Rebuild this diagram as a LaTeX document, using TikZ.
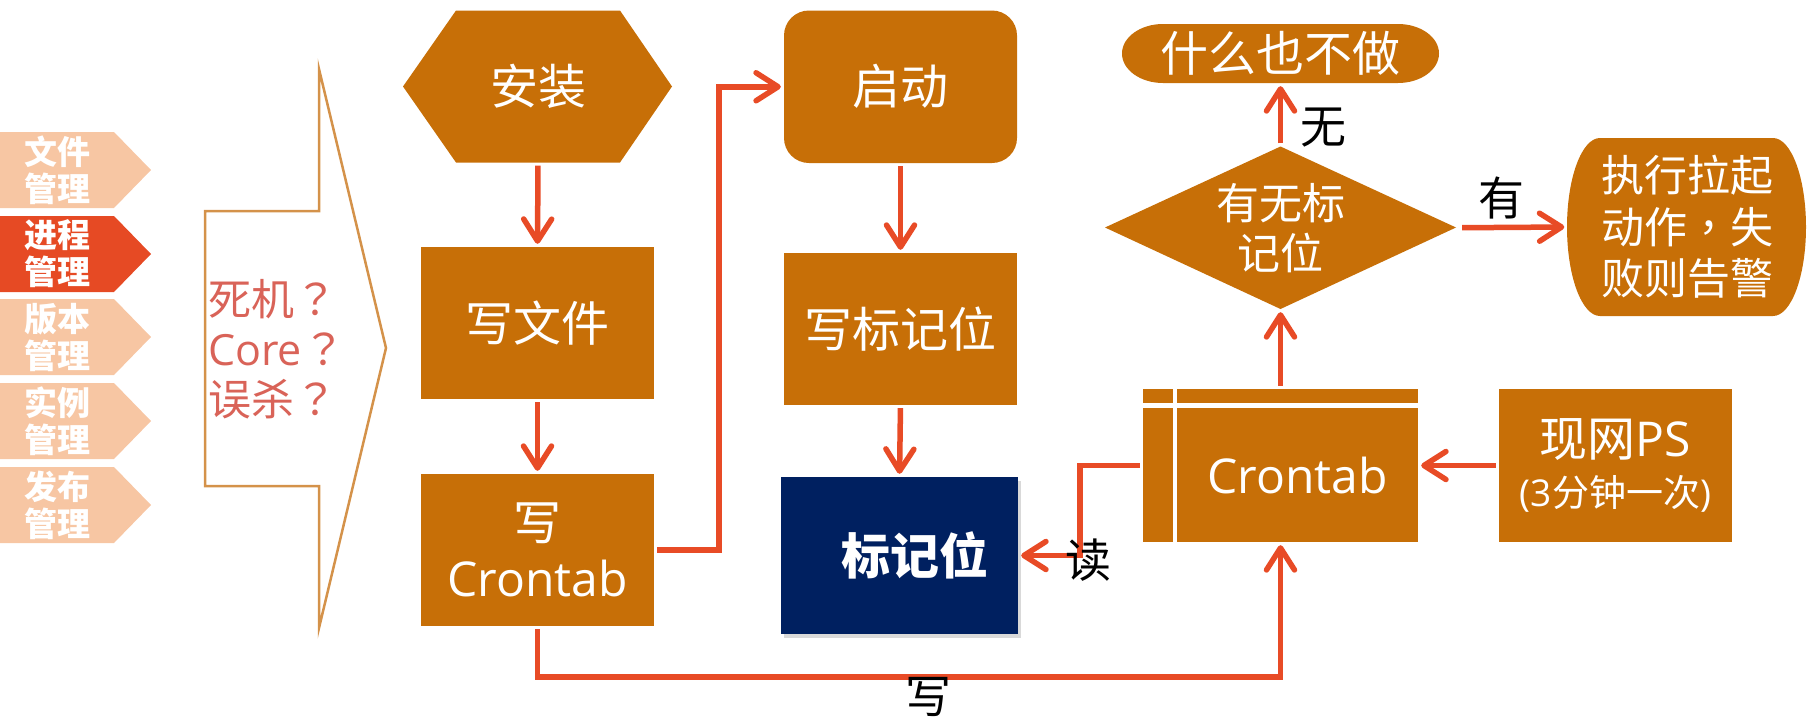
\documentclass[tikz,border=0pt]{standalone}
\usepackage{fontspec}
\setmainfont{Noto Sans CJK SC}
\newfontfamily\lat{Open Sans}
\newfontfamily\tcf{Noto Sans CJK TC}
\usetikzlibrary{arrows.meta,shadows}
\definecolor{boxor}{RGB}{199,111,7}
\definecolor{navy}{RGB}{0,32,96}
\definecolor{arrred}{RGB}{232,75,38}
\definecolor{pentlight}{RGB}{247,198,163}
\definecolor{pentred}{RGB}{230,74,36}
\definecolor{qred}{RGB}{217,99,88}
\definecolor{outl}{RGB}{212,146,74}
\begin{document}
\begin{tikzpicture}[x=1pt,y=1pt,
  boxst/.style={fill=boxor,inner sep=0pt,text=white,align=center,font=\fontsize{48}{56}\selectfont},
  ghost/.style={inner sep=0pt,text=white,align=center},
  arr/.style={draw=arrred,line width=5.5pt,-{Straight Barb[length=22pt,width=28pt,round]},shorten <=3pt,shorten >=3pt},
  lbl/.style={inner sep=0pt,text=black,font=\fontsize{46}{50}\selectfont},
  pent/.style={inner sep=0pt,text=white,align=center,font=\fontsize{33}{37}\selectfont\bfseries}]
\useasboundingbox (0,0) rectangle (1808,-718);
% left pentagons
\foreach \t/\c [count=\i] in {132/pentlight,216/pentred,299/pentlight,383/pentlight,467/pentlight}{
  \fill[\c] (0,-\t) -- (114,-\t) -- (151,-\t-38) -- (114,-\t-76) -- (0,-\t-76) -- cycle;
}
\node[pent] (p1) at (57,-170) {文件\\管理};
\node[pent] (p2) at (57,-254) {进程\\管理};
\node[pent] (p3) at (57,-337) {版本\\管理};
\node[pent] (p4) at (57,-421) {实例\\管理};
\node[pent] (p5) at (57,-505) {发布\\管理};
% big outline arrow
\draw[outl,line width=2.5pt,line join=miter] (319,-69) -- (319,-211) -- (205,-211) -- (205,-486) -- (319,-486) -- (319,-628) -- (386,-348) -- cycle;
\node[inner sep=0pt,anchor=west,align=left,text=qred,font=\fontsize{43}{50}\selectfont] (q) at (208,-349) {死机{\tcf ？}\\{\lat Core}{\tcf ？}\\误杀{\tcf ？}};
% install hexagon
\fill[boxor] (403,-86.5) -- (456,-10.5) -- (620,-10.5) -- (672,-86.5) -- (620,-162.5) -- (456,-162.5) -- cycle;
\node[ghost,minimum width=269pt,minimum height=152pt,font=\fontsize{48}{56}\selectfont] (install) at (538,-86.5) {安装};
\node[boxst,minimum width=233pt,minimum height=152pt] (wfile) at (537.5,-323) {写文件};
\node[boxst,minimum width=233pt,minimum height=152pt] (wcron) at (537.5,-550) {写\\{\lat Crontab}};
\node[boxst,minimum width=233pt,minimum height=152.5pt,rounded corners=25pt] (start) at (900.5,-86.75) {启动};
\node[boxst,minimum width=233pt,minimum height=152pt] (wflag) at (900.5,-329) {写标记位};
\node[boxst,fill=navy,minimum width=237pt,minimum height=157pt,font=\fontsize{49}{56}\selectfont\bfseries,
  drop shadow={shadow xshift=3pt,shadow yshift=-4pt,opacity=0.3}] (flag) at (899.5,-555.5) {\hspace*{30pt}标记位};
% nothing stadium
\fill[boxor] (1163,-24) -- (1398,-24) arc[start angle=90,end angle=-90,x radius=41,y radius=29.5] -- (1163,-83) arc[start angle=270,end angle=90,x radius=41,y radius=29.5] -- cycle;
\node[ghost,minimum width=317pt,minimum height=59pt,font=\fontsize{48}{56}\selectfont] (nothing) at (1280.5,-53.5) {什么也不做};
% diamond
\fill[boxor] (1105,-227.5) -- (1280.5,-146.5) -- (1456,-227.5) -- (1280.5,-309) -- cycle;
\node[ghost,minimum width=351pt,minimum height=162.5pt,font=\fontsize{43}{50}\selectfont] (diam) at (1280.5,-227.75) {有无标\\记位};
% exec shape
\fill[boxor] (1600,-138) -- (1773,-138) arc[start angle=90,end angle=-90,x radius=33,y radius=89] -- (1600,-316) arc[start angle=270,end angle=90,x radius=33,y radius=89] -- cycle;
\node[ghost,minimum width=239pt,minimum height=178pt,font=\fontsize{43}{51.5}\selectfont] (exec) at (1687,-227) {执行拉起\\动作{\tcf ，}失\\败则告警};
% crontab storage
\node[fill=boxor,inner sep=0pt,minimum width=275pt,minimum height=153pt] (cron) at (1280.5,-465.5) {};
\draw[white,line width=4.5pt] (1143,-405.5) -- (1418,-405.5);
\draw[white,line width=4.5pt] (1175,-389) -- (1175,-542);
\node[ghost,font=\fontsize{48}{56}\selectfont\lat] (crontxt) at (1297.5,-475) {Crontab};
\node[boxst,minimum width=233pt,minimum height=153pt] (ps) at (1615.5,-465.5) {现网{\lat PS}\\[-6pt]{\fontsize{37}{44}\selectfont{\lat (3}分钟一次{\lat )}}};
% arrows
\draw[arr] (install.south) -- (wfile.north);
\draw[arr] (wfile.south) -- (wcron.north);
\draw[arr] (start.south) -- (wflag.north);
\draw[arr] (wflag.south) -- (flag.north);
\draw[arr] (wcron.east) -- ([xshift=65pt]wcron.east) |- (start.west);
\draw[arr] (wcron.south) -- ([yshift=-51pt]wcron.south) -| (cron.south);
\draw[arr] (cron.west) -- ([xshift=-63pt]cron.west) |- (flag.east);
\draw[arr] (ps.west) -- (cron.east);
\draw[arr] (cron.north) -- (diam.south);
\draw[arr] (diam.north) -- (nothing.south);
\draw[arr,shorten <=6pt] (diam.east) -- (exec.west);
% labels
\node[lbl] (lw) at (928,-697) {写};
\node[lbl] (lr) at (1088,-560) {读};
\node[lbl] (lno) at (1323,-128) {无};
\node[lbl] (lyes) at (1501,-198) {有};
\end{tikzpicture}
\end{document}
